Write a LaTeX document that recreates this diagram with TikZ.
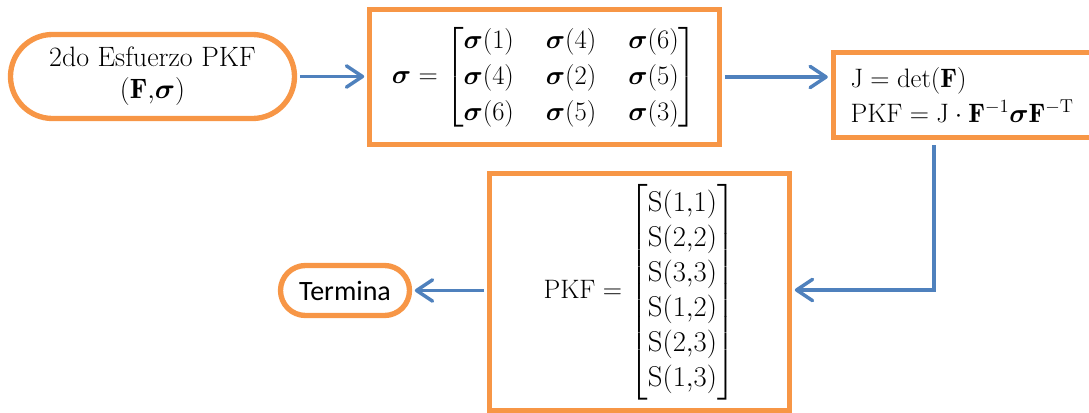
\RequirePackage{fix-cm}
\documentclass[tikz,border=0pt]{standalone}
\usepackage{amsmath,bm}
\usepackage{fontspec}
\newfontfamily\calibrisub{Carlito}
\usetikzlibrary{shapes.misc,arrows.meta}
\definecolor{boxorange}{HTML}{F79646}
\definecolor{flowblue}{HTML}{4F81BD}
\begin{document}
\begin{tikzpicture}[x=0.75pt,y=-0.75pt,
  box/.style={draw=boxorange, line width=4pt, rectangle, inner sep=0pt},
  pill/.style={draw=boxorange, line width=4pt, rounded rectangle, inner sep=0pt},
  flow/.style={draw=flowblue, line width=2.6pt, shorten <=2pt, shorten >=2pt,
    -{Straight Barb[length=12pt,width=16pt,round]}},
  mathfont/.style={font=\fontsize{20}{24}\selectfont}]
\useasboundingbox (0,0) rectangle (1089,413);
\clip (0,0) rectangle (1089,413);

% start terminator
\node[pill, minimum width=213pt, minimum height=63pt, align=center,
  font=\fontsize{21}{24}\selectfont]
  (start) at (152.5,76.5) {2do Esfuerzo PKF\\$(\mathbf{F}{,}\boldsymbol{\sigma})$};

% stress matrix
\node[box, minimum width=262.5pt, minimum height=101.25pt, mathfont]
  (sig) at (544.5,77) {$\arraycolsep=12pt\renewcommand\arraystretch{1.12}%
  \delimitershortfall=12pt\delimiterfactor=850
  \boldsymbol{\sigma}=\begin{bmatrix}
    \boldsymbol{\sigma}(1) & \boldsymbol{\sigma}(4) & \boldsymbol{\sigma}(6)\\
    \boldsymbol{\sigma}(4) & \boldsymbol{\sigma}(2) & \boldsymbol{\sigma}(5)\\
    \boldsymbol{\sigma}(6) & \boldsymbol{\sigma}(5) & \boldsymbol{\sigma}(3)
  \end{bmatrix}$};

% determinant and second Piola-Kirchhoff stress
\node[box, anchor=west, minimum height=63.75pt, text width=190pt, inner xsep=13pt,
  align=left, font=\fontsize{20}{26.25}\selectfont]
  (jb) at (830.5,95) {$\mathrm{J}=\det(\mathbf{F})$\\
  $\mathrm{PKF}=\mathrm{J}\cdot\mathbf{F}^{-1}\boldsymbol{\sigma}\mathbf{F}^{-\mathrm{T}}$};

% result vector
\node[box, minimum width=225pt, minimum height=177.75pt, mathfont]
  (pkf) at (639.5,292) {$\mathrm{PKF}=
  \fontsize{21.5}{24}\selectfont\renewcommand\arraystretch{1.09}%
  \begin{bmatrix}
    \mathrm{S}(1{,}1)\\ \mathrm{S}(2{,}2)\\ \mathrm{S}(3{,}3)\\
    \mathrm{S}(1{,}2)\\ \mathrm{S}(2{,}3)\\ \mathrm{S}(1{,}3)
  \end{bmatrix}$};

% end terminator
\node[pill, minimum width=96.75pt, minimum height=37.5pt,
  font=\calibrisub\fontsize{21}{25}\selectfont] (term) at (345,290.5) {Termina};

% connectors
\coordinate (bend) at (934,290);
\draw[flow] (start.east) -- (start.east -| sig.west);
\draw[flow] (sig.east) -- (sig.east -| jb.west);
\draw[flow, shorten <=4pt] (jb.south -| bend) -- (bend) -- (bend -| pkf.east);
\draw[flow] (pkf.west |- term) -- (term.east);
\end{tikzpicture}
\end{document}
